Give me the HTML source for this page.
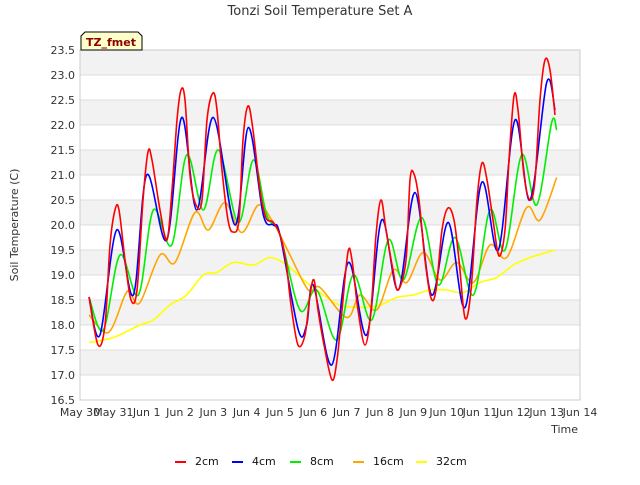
<!DOCTYPE html>
<html><head><meta charset="utf-8"><style>
body{margin:0;background:#fff;font-family:"Liberation Sans","DejaVu Sans",sans-serif;}
svg text{font-family:"DejaVu Sans","Liberation Sans",sans-serif;}
</style></head><body>
<svg id="c" width="640" height="480">
<text x="320" y="15" text-anchor="middle" font-size="13" fill="#333">Tonzi Soil Temperature Set A</text>
<text transform="translate(18,225) rotate(-90)" text-anchor="middle" font-size="11" fill="#333">Soil Temperature (C)</text>
<text x="578" y="433" text-anchor="end" font-size="11" fill="#333">Time</text>
<g id="bands"></g><g id="yt"></g><g id="xt"></g><g id="series"></g>
<rect x="80" y="50" width="500" height="350" fill="none" stroke="#ccc"/>
<g>
<path d="M81,50 L81,36 L85,32 L138,32 L142,36 L142,50 Z" fill="#ffffcc" stroke="#000"/>
<text x="111" y="46" text-anchor="middle" font-size="11" font-weight="bold" fill="#8b0000">TZ_fmet</text>
</g>
<g id="legend"></g>
</svg>
<script>
const yTicks=[16.5,17.0,17.5,18.0,18.5,19.0,19.5,20.0,20.5,21.0,21.5,22.0,22.5,23.0,23.5];
const xLabels=["May 30","May 31","Jun 1","Jun 2","Jun 3","Jun 4","Jun 5","Jun 6","Jun 7","Jun 8","Jun 9","Jun 10","Jun 11","Jun 12","Jun 13","Jun 14"];
const seriesNames=["2cm","4cm","8cm","16cm","32cm"];
const seriesColors=["#ff0000","#0000ff","#00ee00","#ffa500","#ffff00"];
const d2cm=[0.27,0.54,0.75,0.90,1.05,1.17,1.35,1.53,1.71,1.89,2.04,2.16,2.40,2.61,2.76,2.91,3.03,3.15,3.30,3.48,3.66,3.81,3.99,4.11,4.26,4.44,4.59,4.77,4.89,5.04,5.19,5.40,5.58,5.79,6.00,6.18,6.33,6.54,6.75,6.90,7.02,7.14,7.32,7.56,7.71,7.86,8.04,8.16,8.34,8.55,8.73,8.88,9.03,9.18,9.39,9.54,9.78,9.90,10.02,10.17,10.35,10.53,10.68,10.86,11.04,11.22,11.37,11.55,11.73,11.91,12.06,12.21,12.39,12.57,12.75,12.87,13.02,13.14,13.32,13.50,13.65,13.80,13.95,14.10,14.25];
const v2cm=[18.56,17.6,18.0,19.6,20.3,20.3,19.3,18.5,18.7,20.5,21.46,21.3,20.3,19.7,20.7,22.1,22.7,22.5,21.0,20.4,20.5,22.1,22.64,22.3,21.1,20.1,19.86,20.1,21.7,22.38,21.9,20.7,20.14,20.06,19.8,19.26,18.4,17.6,17.8,18.6,18.9,18.3,17.6,16.9,17.3,18.3,19.46,19.3,18.3,17.6,18.3,19.8,20.5,19.9,19.1,18.7,19.3,20.9,21.02,20.5,19.3,18.54,18.7,19.9,20.34,20.1,19.3,18.14,18.7,20.5,21.24,20.9,20.1,19.38,19.9,21.3,22.58,22.3,21.0,20.5,20.9,22.5,23.3,23.1,22.2];
const d4cm=[0.27,0.6,1.1,1.6,2.0,2.6,3.05,3.5,4.0,4.65,5.05,5.5,5.8,6.0,6.55,6.8,7.0,7.55,8.05,8.6,9.05,9.55,10.05,10.55,11.05,11.55,12.05,12.55,13.05,13.5,14.0,14.25];
const v4cm=[18.56,17.8,19.9,18.6,21.0,19.7,22.15,20.3,22.15,20.0,21.95,20.2,20.0,19.8,17.9,18.0,18.8,17.2,19.25,17.8,20.1,18.7,20.65,18.6,20.05,18.35,20.85,19.5,22.1,20.5,22.85,22.3];
const d8cm=[0.27,0.7,1.2,1.75,2.2,2.75,3.2,3.7,4.15,4.75,5.2,5.6,6.0,6.6,7.1,7.7,8.2,8.75,9.25,9.7,10.25,10.75,11.25,11.8,12.3,12.75,13.25,13.7,14.15,14.3];
const v8cm=[18.55,17.9,19.4,18.6,20.3,19.6,21.4,20.3,21.5,20.05,21.3,20.2,19.8,18.3,18.7,17.7,19.0,18.1,19.7,18.9,20.15,18.8,19.75,18.6,20.3,19.5,21.4,20.4,22.05,21.9];
const d16cm=[0.27,0.85,1.35,1.5,1.8,2.4,2.85,3.45,3.85,4.35,4.85,5.35,5.75,6.0,6.3,6.85,7.2,8.0,8.4,8.9,9.4,9.8,10.3,10.8,11.3,11.8,12.3,12.8,13.4,13.8,14.3];
const v16cm=[18.2,17.85,18.6,18.65,18.45,19.4,19.25,20.25,19.9,20.45,19.85,20.4,20.1,19.8,19.4,18.7,18.75,18.15,18.6,18.3,19.1,18.85,19.45,18.9,19.25,18.85,19.6,19.35,20.35,20.1,20.95];
const d32cm=[0.27,1.0,1.8,2.2,2.7,3.2,3.7,4.1,4.6,5.2,5.7,6.2,6.8,7.3,7.8,8.5,9.0,9.5,10.0,10.5,11.0,11.5,12.0,12.5,13.0,13.5,14.25];
const v32cm=[17.65,17.75,18.0,18.1,18.4,18.6,19.0,19.05,19.25,19.2,19.35,19.2,18.85,18.6,18.4,18.35,18.4,18.55,18.6,18.7,18.7,18.65,18.85,18.95,19.2,19.35,19.5];
const seriesDays=[d2cm,d4cm,d8cm,d16cm,d32cm];
const seriesVals=[v2cm,v4cm,v8cm,v16cm,v32cm];

const X0=80,X1=580,Y0=400,Y1=50,DMAX=15,VMIN=16.5,VMAX=23.5;
const xs=d=>X0+(X1-X0)*d/DMAX;
const ys=v=>Y0-(Y0-Y1)*(v-VMIN)/(VMAX-VMIN);
const NS="http://www.w3.org/2000/svg";
function mk(t,a,p){const e=document.createElementNS(NS,t);for(const k in a)e.setAttribute(k,a[k]);p.appendChild(e);return e;}
const bands=document.getElementById('bands');
for(let i=0;i<yTicks.length-1;i++){
  const lo=yTicks[i],hi=yTicks[i+1];
  if(Math.abs(lo-Math.round(lo))<1e-6){
    const r=mk('rect',{x:X0,y:ys(hi),width:X1-X0,height:ys(lo)-ys(hi),fill:'#f2f2f2'},bands);
    
    
  }
}
const yt=document.getElementById('yt');
yTicks.forEach(v=>{
  const l=mk('line',{x1:X0,x2:X1,y1:ys(v),y2:ys(v),stroke:'#ddd'},yt);
  
  
  const t=mk('text',{x:X0-5,y:ys(v)+4,'text-anchor':'end','font-size':11,fill:'#333'},yt);
  t.textContent=v.toFixed(1);
  
  
});
const xt=document.getElementById('xt');
xLabels.forEach((s,i)=>{
  const t=mk('text',{x:xs(i),y:416,'text-anchor':'middle','font-size':11,fill:'#333'},xt);
  t.textContent=s;
  
  
});
function smooth(pts){
  let d='M'+pts[0][0].toFixed(1)+','+pts[0][1].toFixed(1);
  for(let i=0;i<pts.length-1;i++){
    const p0=pts[Math.max(0,i-1)],p1=pts[i],p2=pts[i+1],p3=pts[Math.min(pts.length-1,i+2)];
    const c1=[p1[0]+(p2[0]-p0[0])/6,p1[1]+(p2[1]-p0[1])/6];
    const c2=[p2[0]-(p3[0]-p1[0])/6,p2[1]-(p3[1]-p1[1])/6];
    d+=' C'+c1.join(',')+' '+c2.join(',')+' '+p2.join(',');
  }
  return d;
}
const sg=document.getElementById('series');
for(let s=seriesNames.length-1;s>=0;s--){
  const pts=seriesDays[s].map((d,i)=>[xs(d),ys(seriesVals[s][i])]);
  const p=mk('path',{d:smooth(pts),fill:'none',stroke:seriesColors[s],'stroke-width':1.6},sg);
  
  
}
const lg=document.getElementById('legend');
const lx=[175,232,290,353,416];
seriesNames.forEach((n,i)=>{
  const g=mk('g',{},lg);
  
  
  mk('line',{x1:lx[i],x2:lx[i]+11,y1:462,y2:462,stroke:seriesColors[i],'stroke-width':2},g);
  const t=mk('text',{x:lx[i]+20,y:465,'font-size':11,fill:'#111'},g);
  t.textContent=n;
});
</script>
</body></html>
